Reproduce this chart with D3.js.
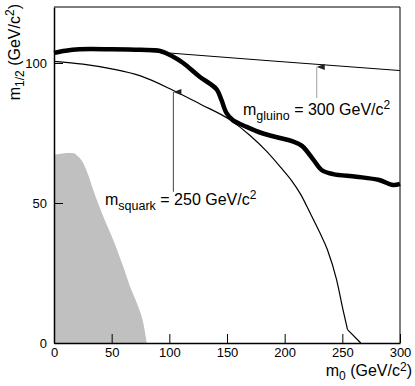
<!DOCTYPE html>
<html>
<head>
<meta charset="utf-8">
<script src="https://cdn.jsdelivr.net/npm/d3@7"></script>
<style>
  body { margin: 0; background: #fff; }
  text { font-family: "Liberation Sans", Arial, sans-serif; fill: #000; }
</style>
</head>
<body>
<script>
// m0 vs m1/2 exclusion curves
let xMajor = [0, 50, 100, 150, 200, 250, 300];
let xMinor = d3.range(0, 301, 10);
let yMajor = [0, 50, 100];
let yMinor = d3.range(0, 121, 10);

// thick limit curve [m0, m1/2]
let limitCurve = [[0, 103.6], [10, 104.4], [22, 104.9], [50, 104.9], [75, 104.7], [92, 104.3],
  [103, 102.3], [112, 100], [126, 95.2], [141, 90.6], [145, 87], [149.5, 82.2], [155, 79.6],
  [167, 77.2], [180, 75], [195, 73.3], [207, 72], [215, 70.4], [225, 65.4], [232, 61.8],
  [242, 60.3], [262, 59.4], [282, 58.2], [294, 56.4], [300, 56.8]];

// m_squark = 250 contour
let squarkCurve = [[0, 100.6], [25, 99.6], [50, 97.9], [75, 95.4], [103.5, 90.2], [127, 85.3],
  [153, 79.6], [170, 74.1], [184, 68.6], [196, 63], [206, 58], [214, 53], [222, 46.5],
  [230, 39.8], [237, 33.4], [245, 22.6], [250.5, 12], [254.5, 4.8]];
let squarkTail = [[254.5, 4.8], [266, 0]];

// m_gluino = 300 contour
let gluinoCurve = [[80, 104.2], [190, 100.7], [300, 97.3]];

// excluded region (gray)
let excluded = [[0, 67.2], [6, 67.6], [12, 67.9], [17, 67.8], [21, 66.6], [25.4, 64.2], [30, 59.6],
  [34, 54.6], [42.8, 45.1], [51.4, 36.8], [60, 27.3], [66, 20.1], [73, 13], [77.5, 7], [80.4, 0]];

let width = 415, height = 386;
let x = d3.scaleLinear().domain([0, 300]).range([54, 400]);
let y = d3.scaleLinear().domain([0, 120]).range([343, 7]);

let svg = d3.select("body").append("svg")
  .attr("width", width)
  .attr("height", height);

svg.append("defs").append("marker")
  .attr("id", "head")
  .attr("viewBox", "0 0 6 10")
  .attr("refX", 3).attr("refY", 0)
  .attr("markerWidth", 6).attr("markerHeight", 10)
  .attr("markerUnits", "userSpaceOnUse")
  .attr("orient", "auto-start-reverse")
  .append("path")
  .attr("d", "M0,8 L3,0 L6,8 Z")
  .attr("fill", "#222");

// gray region
let area = d3.area()
  .x(d => x(d[0]))
  .y0(y(0))
  .y1(d => y(d[1]))
  .curve(d3.curveMonotoneX);
svg.append("path")
  .datum(excluded)
  .attr("d", area)
  .attr("fill", "#c0c0c0");

let line = d3.line()
  .x(d => x(d[0]))
  .y(d => y(d[1]));

svg.append("path")
  .datum(gluinoCurve)
  .attr("d", line)
  .attr("fill", "none")
  .attr("stroke", "#000")
  .attr("stroke-width", 1);

svg.append("path")
  .datum(squarkCurve)
  .attr("d", line.curve(d3.curveMonotoneX))
  .attr("fill", "none")
  .attr("stroke", "#000")
  .attr("stroke-width", 1.2);

svg.append("path")
  .datum(squarkTail)
  .attr("d", d3.line().x(d => x(d[0])).y(d => y(d[1])))
  .attr("fill", "none")
  .attr("stroke", "#000")
  .attr("stroke-width", 1.2);

svg.append("path")
  .datum(limitCurve)
  .attr("d", d3.line().x(d => x(d[0])).y(d => y(d[1])).curve(d3.curveCatmullRom))
  .attr("fill", "none")
  .attr("stroke", "#000")
  .attr("stroke-width", 4.5)
  .attr("stroke-linejoin", "round");

// arrows
svg.append("line")
  .attr("x1", x(103.5)).attr("x2", x(103.5))
  .attr("y1", y(54)).attr("y2", y(89.6))
  .attr("stroke", "#444")
  .attr("stroke-width", 1)
  .attr("marker-end", "url(#head)");

svg.append("line")
  .attr("x1", x(227.8)).attr("x2", x(227.8))
  .attr("y1", y(87.5)).attr("y2", y(98.6))
  .attr("stroke", "#888")
  .attr("stroke-width", 0.8)
  .attr("marker-end", "url(#head)");

// labels
function massLabel(px, py, sub, value) {
  let t = svg.append("text").attr("x", px).attr("y", py).attr("font-size", 16);
  t.append("tspan").text("m");
  t.append("tspan").attr("font-size", 12.5).attr("dy", 4.5).text(sub);
  t.append("tspan").attr("dy", -4.5).text(" = " + value + " GeV/c");
  t.append("tspan").attr("font-size", 12).attr("dy", -6).text("2");
}
massLabel(243, 115, "gluino", 300);
massLabel(105, 205, "squark", 250);

// frame
svg.append("line").attr("x1", x(0)).attr("x2", x(300)).attr("y1", y(120)).attr("y2", y(120))
  .attr("stroke", "#000").attr("stroke-width", 1);
svg.append("line").attr("x1", x(300)).attr("x2", x(300)).attr("y1", y(120)).attr("y2", y(0))
  .attr("stroke", "#000").attr("stroke-width", 1);

// axes
let xAxisG = svg.append("g").attr("transform", `translate(0,${y(0)})`);
xAxisG.call(d3.axisBottom(x).tickValues(xMinor).tickSize(-4.5).tickFormat(""));
xAxisG.call(d3.axisBottom(x).tickValues(xMajor).tickSizeInner(-9).tickSizeOuter(0).tickPadding(5).tickFormat(d3.format("d")));

let yAxisG = svg.append("g").attr("transform", `translate(${x(0)},0)`);
yAxisG.call(d3.axisLeft(y).tickValues(yMinor).tickSize(-4.5).tickFormat(""));
yAxisG.call(d3.axisLeft(y).tickValues(yMajor).tickSizeInner(-9).tickSizeOuter(0).tickPadding(7).tickFormat(d3.format("d")));

svg.selectAll(".domain").attr("stroke", "#000").attr("stroke-width", 1.5);
svg.selectAll(".tick line").attr("stroke", "#000").attr("stroke-width", 1);
svg.selectAll(".tick text").attr("font-size", 13).attr("font-family", "Liberation Sans, Arial, sans-serif").attr("fill", "#000");

// axis titles
let xt = svg.append("text").attr("x", 412).attr("y", 376).attr("text-anchor", "end").attr("font-size", 16);
xt.append("tspan").text("m");
xt.append("tspan").attr("font-size", 12).attr("dy", 4).text("0");
xt.append("tspan").attr("dy", -4).text(" (GeV/c");
xt.append("tspan").attr("font-size", 12).attr("dy", -5).text("2");
xt.append("tspan").attr("dy", 5).text(")");

let yt = svg.append("text").attr("transform", "translate(20,4) rotate(-90)").attr("text-anchor", "end").attr("font-size", 16);
yt.append("tspan").text("m");
yt.append("tspan").attr("font-size", 12).attr("dy", 4).text("1/2");
yt.append("tspan").attr("dy", -4).text(" (GeV/c");
yt.append("tspan").attr("font-size", 12).attr("dy", -6).text("2");
yt.append("tspan").attr("dy", 6).text(")");
</script>
</body>
</html>
